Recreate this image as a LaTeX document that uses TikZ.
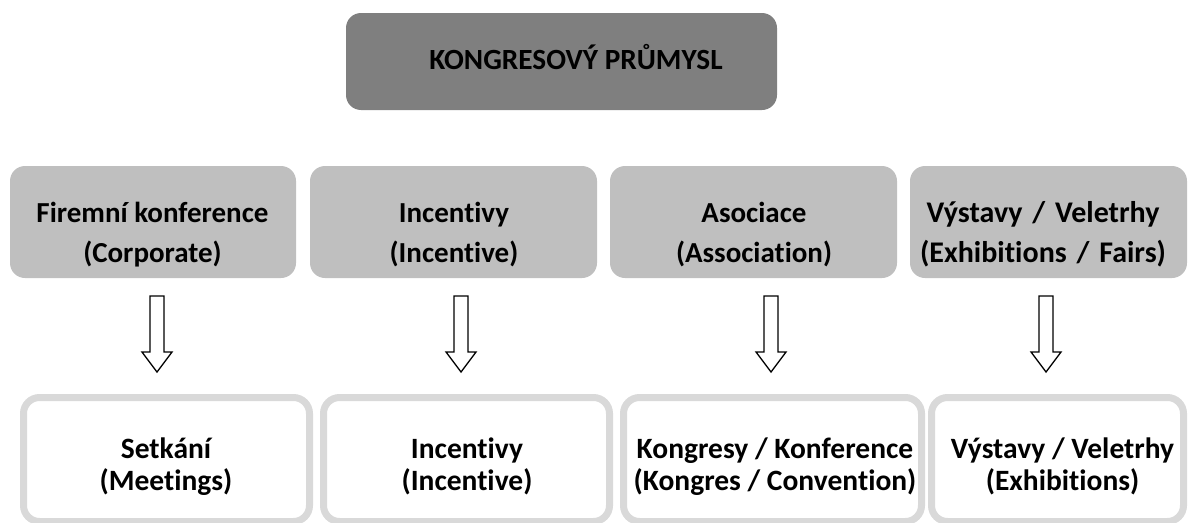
\documentclass[tikz,border=0pt]{standalone}
\usepackage{fontspec}
\setmainfont{Carlito}[Ligatures=NoCommon]
\newcommand\midsl{\ \hspace{0.1em}/\hspace{0.1em}\ }
\begin{document}
\begin{tikzpicture}[x=1pt,y=-1pt,
  topbox/.style={draw=none,fill=topgray,rounded corners=15pt,minimum width=431pt,minimum height=97pt,inner sep=0pt},
  midbox/.style={draw=none,fill=midgray,rounded corners=15pt,minimum height=112pt,inner sep=0pt},
  botbox/.style={draw=botgray,line width=7pt,fill=white,rounded corners=16pt},
  toptext/.style={font=\fontsize{29.3}{33}\selectfont\bfseries,align=center,inner sep=0pt},
  midtext/.style={font=\fontsize{29}{40}\selectfont\bfseries,align=center,inner sep=0pt},
  midtextb/.style={font=\fontsize{30}{40}\selectfont\bfseries,align=center,inner sep=0pt},
  bottext/.style={font=\fontsize{29.5}{32}\selectfont\bfseries,align=center,inner sep=0pt},
  blockarrow/.style={draw=black,line width=1.3pt,fill=white,line join=miter}
]
\definecolor{topgray}{HTML}{7F7F7F}
\definecolor{midgray}{HTML}{BFBFBF}
\definecolor{botgray}{HTML}{D9D9D9}
\useasboundingbox (0,0) rectangle (1188,522);
\begin{scope}
\clip (0,0) rectangle (1188,522);
% top
\node[topbox] (top) at (561.5,61.5) {};
\node[toptext] (toplbl) at (576,61.4) {\strut KONGRESOVÝ PRŮMYSL};
% middle
\node[midbox,minimum width=286pt] (m1) at (153,222) {};
\node[midbox,minimum width=287pt] (m2) at (453.5,222) {};
\node[midbox,minimum width=287pt] (m3) at (753.5,222) {};
\node[midbox,minimum width=277pt] (m4) at (1048.5,222) {};
\node[midtext] (m1t) at (152.5,234) {\strut Firemní konference\\\strut (Corporate)};
\node[midtext] (m2t) at (454,234) {\strut Incentivy\\\strut (Incentive)};
\node[midtext] (m3t) at (754,234) {\strut Asociace\\\strut (Association)};
\node[midtextb] (m4t) at (1043,234) {\strut Výstavy\midsl Veletrhy\\\strut (Exhibitions\midsl Fairs)};
% bottom
\draw[botbox] (23.5,397.5) rectangle (309.5,521.5);
\draw[botbox] (323.5,397.5) rectangle (609.5,521.5);
\draw[botbox] (623.5,397.5) rectangle (921.5,521.5);
\draw[botbox] (931.5,397.5) rectangle (1183.5,521.5);
\coordinate (b1) at (166,468);
\coordinate (b2) at (467,468);
\coordinate (b3) at (775,468);
\coordinate (b4) at (1062.5,468);
\node[bottext] (b1t) at (b1) {\strut Setkání\\\strut (Meetings)};
\node[bottext] (b2t) at (b2) {\strut Incentivy\\\strut (Incentive)};
\node[bottext] (b3t) at (b3) {\strut Kongresy / Konference\\\strut (Kongres / Convention)};
\node[bottext] (b4t) at (b4) {\strut Výstavy / Veletrhy\\\strut (Exhibitions)};
% arrows
\foreach \n/\cx in {1/157,2/461,3/771,4/1046}{
  \coordinate (a\n) at (\cx,296);
  \draw[blockarrow] (a\n) ++(-7,0) -- ++(14,0) -- ++(0,56) -- ++(8,0) -- ++(-15,20) -- ++(-15,-20) -- ++(8,0) -- cycle;
}
\end{scope}
\end{tikzpicture}
\end{document}
